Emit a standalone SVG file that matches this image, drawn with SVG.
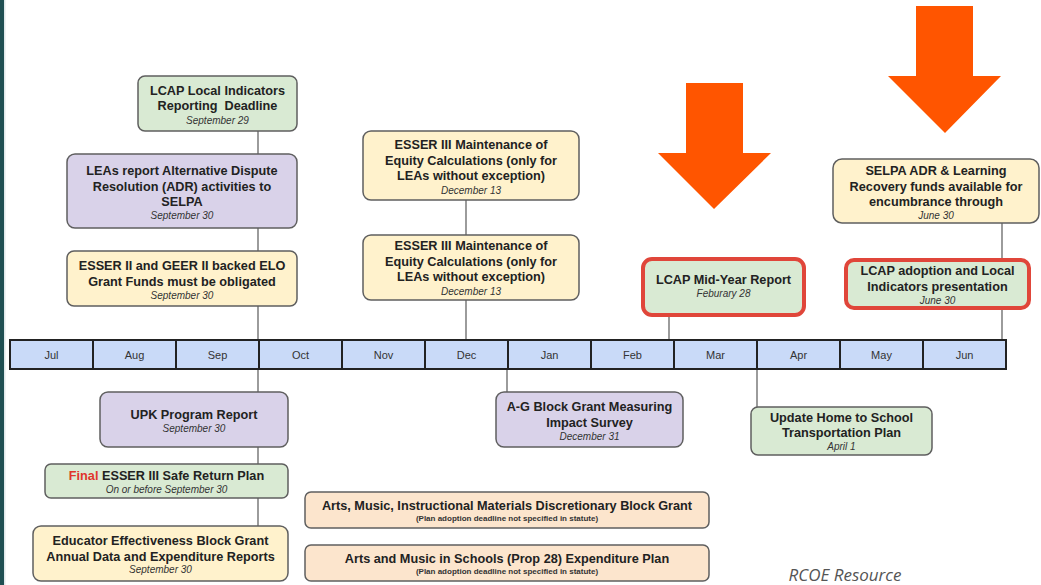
<svg xmlns="http://www.w3.org/2000/svg" width="1041" height="585" viewBox="0 0 1041 585">
<style>
.bx{stroke:#5f5f5f;stroke-width:1.5}
.g{fill:#d9ead3}.p{fill:#d9d2e9}.y{fill:#fff2cc}.t{fill:#fce5cd}
.red{stroke:#e0463a;stroke-width:4}
.tt{font-family:"Liberation Sans",Arial,sans-serif;font-weight:bold;font-size:12.7px;fill:#222;text-anchor:middle}
.dt{font-family:"Liberation Sans",Arial,sans-serif;font-style:italic;font-size:10px;fill:#333;text-anchor:middle}
.sm{font-family:"Liberation Sans",Arial,sans-serif;font-weight:bold;font-size:8px;fill:#333;text-anchor:middle}
.mo{font-family:"Liberation Sans",Arial,sans-serif;font-size:11px;fill:#333;text-anchor:middle}
.cell{fill:#c9daf8;stroke:#222;stroke-width:2}
.ln{stroke:#666;stroke-width:1.3;fill:none}
.arr{fill:#ff5500}
</style>
<rect width="1041" height="585" fill="#ffffff"/>
<rect x="0" y="0" width="4" height="585" fill="#1f4f52"/>
<rect x="4" y="0" width="1.5" height="585" fill="#dfe8ea"/>

<g id="connectors">
<line class="ln" x1="258" y1="131" x2="258" y2="154"/>
<line class="ln" x1="258" y1="228" x2="258" y2="251"/>
<line class="ln" x1="258" y1="306" x2="258" y2="340"/>
<line class="ln" x1="466" y1="200" x2="466" y2="235"/>
<line class="ln" x1="466" y1="300" x2="466" y2="340"/>
<line class="ln" x1="669" y1="315" x2="669" y2="340"/>
<line class="ln" x1="1002" y1="223" x2="1002" y2="340"/>
<line class="ln" x1="258" y1="369" x2="258" y2="392"/>
<line class="ln" x1="258" y1="447" x2="258" y2="464"/>
<line class="ln" x1="258" y1="498" x2="258" y2="526"/>
<line class="ln" x1="507" y1="369" x2="507" y2="400"/>
<line class="ln" x1="757" y1="369" x2="757" y2="407"/>
</g>

<g id="timeline">
<rect class="cell" x="10" y="340" width="83" height="29"/>
<rect class="cell" x="93" y="340" width="83" height="29"/>
<rect class="cell" x="176" y="340" width="83" height="29"/>
<rect class="cell" x="259" y="340" width="83" height="29"/>
<rect class="cell" x="342" y="340" width="83" height="29"/>
<rect class="cell" x="425" y="340" width="83" height="29"/>
<rect class="cell" x="508" y="340" width="83" height="29"/>
<rect class="cell" x="591" y="340" width="83" height="29"/>
<rect class="cell" x="674" y="340" width="83" height="29"/>
<rect class="cell" x="757" y="340" width="83" height="29"/>
<rect class="cell" x="840" y="340" width="83" height="29"/>
<rect class="cell" x="923" y="340" width="83" height="29"/>
<text class="mo" x="51.5" y="359">Jul</text>
<text class="mo" x="134.5" y="359">Aug</text>
<text class="mo" x="217.5" y="359">Sep</text>
<text class="mo" x="300.5" y="359">Oct</text>
<text class="mo" x="383.5" y="359">Nov</text>
<text class="mo" x="466.5" y="359">Dec</text>
<text class="mo" x="549.5" y="359">Jan</text>
<text class="mo" x="632.5" y="359">Feb</text>
<text class="mo" x="715.5" y="359">Mar</text>
<text class="mo" x="798.5" y="359">Apr</text>
<text class="mo" x="881.5" y="359">May</text>
<text class="mo" x="964.5" y="359">Jun</text>
</g>

<g id="n-lcap-local">
<rect class="bx g" x="138" y="76" width="159" height="55" rx="7"/>
<text class="tt" x="217.5" y="95">LCAP Local Indicators</text>
<text class="tt" x="217.5" y="110">Reporting&#160; Deadline</text>
<text class="dt" x="217.5" y="124">September 29</text>
</g>
<g id="n-leas-adr">
<rect class="bx p" x="67" y="154" width="230" height="74" rx="8"/>
<text class="tt" x="182" y="175">LEAs report Alternative Dispute</text>
<text class="tt" x="182" y="191">Resolution (ADR) activities to</text>
<text class="tt" x="182" y="206">SELPA</text>
<text class="dt" x="182" y="219">September 30</text>
</g>
<g id="n-esser2">
<rect class="bx y" x="67" y="251" width="230" height="55" rx="7"/>
<text class="tt" x="182" y="270">ESSER II and GEER II backed ELO</text>
<text class="tt" x="182" y="286">Grant Funds must be obligated</text>
<text class="dt" x="182" y="299">September 30</text>
</g>
<g id="n-esser3-a">
<rect class="bx y" x="363" y="131" width="216" height="69" rx="8"/>
<text class="tt" x="471" y="149">ESSER III Maintenance of</text>
<text class="tt" x="471" y="165">Equity Calculations (only for</text>
<text class="tt" x="471" y="180">LEAs without exception)</text>
<text class="dt" x="471" y="194">December 13</text>
</g>
<g id="n-esser3-b">
<rect class="bx y" x="363" y="235" width="216" height="65" rx="8"/>
<text class="tt" x="471" y="250">ESSER III Maintenance of</text>
<text class="tt" x="471" y="266">Equity Calculations (only for</text>
<text class="tt" x="471" y="281">LEAs without exception)</text>
<text class="dt" x="471" y="295">December 13</text>
</g>
<g id="n-midyear">
<rect class="g red" x="643" y="259" width="161" height="56" rx="9"/>
<text class="tt" x="723.5" y="284">LCAP Mid-Year Report</text>
<text class="dt" x="723.5" y="297">Feburary 28</text>
</g>
<g id="n-selpa">
<rect class="bx y" x="833" y="159" width="206" height="64" rx="9"/>
<text class="tt" x="936" y="175">SELPA ADR &amp; Learning</text>
<text class="tt" x="936" y="191">Recovery funds available for</text>
<text class="tt" x="936" y="206">encumbrance through</text>
<text class="dt" x="936" y="219">June 30</text>
</g>
<g id="n-lcap-adoption">
<rect class="g red" x="846" y="260" width="183" height="48" rx="8"/>
<text class="tt" x="937.5" y="275">LCAP adoption and Local</text>
<text class="tt" x="937.5" y="291">Indicators presentation</text>
<text class="dt" x="937.5" y="304">June 30</text>
</g>
<g id="n-upk">
<rect class="bx p" x="100" y="392" width="188" height="55" rx="8"/>
<text class="tt" x="194" y="419">UPK Program Report</text>
<text class="dt" x="194" y="432">September 30</text>
</g>
<g id="n-final-esser">
<rect class="bx g" x="45" y="464" width="243" height="34" rx="6"/>
<text class="tt" x="166.5" y="480"><tspan fill="#e0352b">Final</tspan> ESSER III Safe Return Plan</text>
<text class="dt" x="166.5" y="493">On or before September 30</text>
</g>
<g id="n-educator">
<rect class="bx y" x="33" y="526" width="255" height="55" rx="8"/>
<text class="tt" x="160.5" y="545">Educator Effectiveness Block Grant</text>
<text class="tt" x="160.5" y="561">Annual Data and Expenditure Reports</text>
<text class="dt" x="160.5" y="573">September 30</text>
</g>
<g id="n-ag">
<rect class="bx p" x="496" y="392" width="187" height="55" rx="8"/>
<text class="tt" x="589.5" y="411">A-G Block Grant Measuring</text>
<text class="tt" x="589.5" y="427">Impact Survey</text>
<text class="dt" x="589.5" y="440">December 31</text>
</g>
<g id="n-update-home">
<rect class="bx g" x="751" y="407" width="181" height="48" rx="7"/>
<text class="tt" x="841.5" y="422">Update Home to School</text>
<text class="tt" x="841.5" y="437">Transportation Plan</text>
<text class="dt" x="841.5" y="450">April 1</text>
</g>
<g id="n-arts-music-imd">
<rect class="bx t" x="305" y="492" width="404" height="36" rx="6"/>
<text class="tt" x="507" y="510">Arts, Music, Instructional Materials Discretionary Block Grant</text>
<text class="sm" x="507" y="521">(Plan adoption deadline not specified in statute)</text>
</g>
<g id="n-prop28">
<rect class="bx t" x="305" y="545" width="404" height="36" rx="6"/>
<text class="tt" x="507" y="563">Arts and Music in Schools (Prop 28) Expenditure Plan</text>
<text class="sm" x="507" y="574">(Plan adoption deadline not specified in statute)</text>
</g>

<g id="highlight-arrows">
<polygon class="arr" points="686,83 743,83 743,153 771,153 714,209 658,153 686,153"/>
<polygon class="arr" points="916,6 973,6 973,76 1001,76 945,133 888,76 916,76"/>
</g>

<text x="845" y="581" font-family="'Open Sans','Liberation Sans',sans-serif" font-style="italic" font-size="17" fill="#555" text-anchor="middle">RCOE Resource</text>
</svg>
